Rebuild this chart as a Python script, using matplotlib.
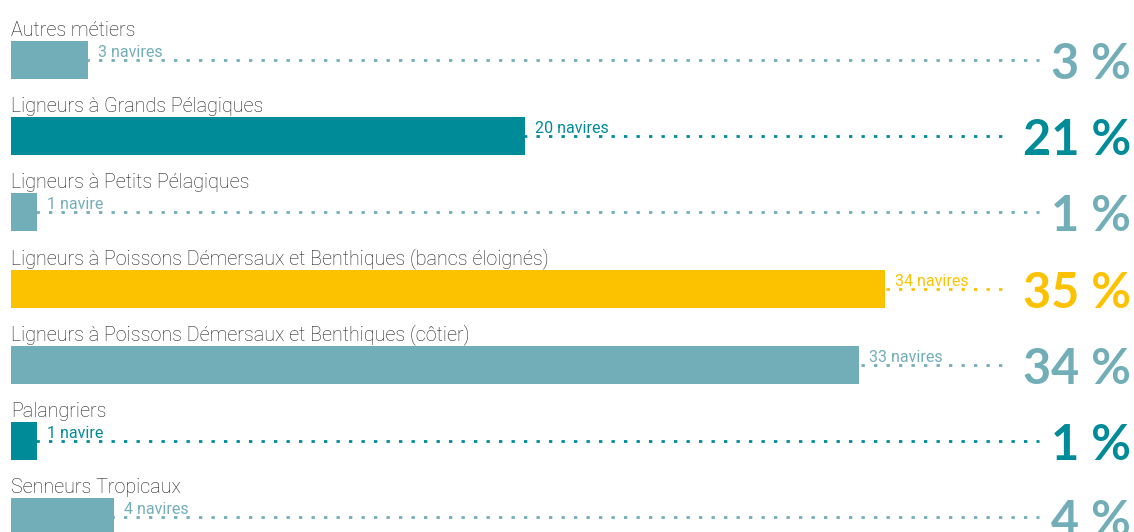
import matplotlib
matplotlib.use("Agg")
import matplotlib.pyplot as plt
import matplotlib.transforms as mtransforms

# Données
categories = [
    "Autres métiers",
    "Ligneurs à Grands Pélagiques",
    "Ligneurs à Petits Pélagiques",
    "Ligneurs à Poissons Démersaux et Benthiques (bancs éloignés)",
    "Ligneurs à Poissons Démersaux et Benthiques (côtier)",
    "Palangriers",
    "Senneurs Tropicaux",
]
navires = [3, 20, 1, 34, 33, 1, 4]
pourcentages = [3, 21, 1, 35, 34, 1, 4]

LIGHT = "#72AEB7"
DARK = "#008B99"
YELLOW = "#FCC200"
colors = [LIGHT, DARK, LIGHT, YELLOW, LIGHT, DARK, LIGHT]

W, H = 1134, 532
fig = plt.figure(figsize=(W / 100, H / 100), dpi=100)
ax = fig.add_axes([0, 0, 1, 1])
ax.set_axis_off()

px_per_navire = 25.7
x0 = 11  # left edge of bars, px
ax.set_xlim(-x0 / px_per_navire, (W - x0) / px_per_navire)
row_px = 76.2
top_px = 60
ax.set_ylim((H - top_px) / row_px, -top_px / row_px)

ys = list(range(len(categories)))
ax.barh(ys, navires, height=0.5, color=colors, zorder=2)

# right edge in axes coords for percentages
pct_trans = mtransforms.blended_transform_factory(ax.transAxes, ax.transData)
fig.canvas.draw()
renderer = fig.canvas.get_renderer()

for y, cat, n, p, c in zip(ys, categories, navires, pourcentages, colors):
    ax.text(0, y - 0.315, cat, ha="left", va="baseline", fontsize=14.2,
            family="Roboto", weight="light", color="#1f1f1f")
    lab = f"{n} navire" if n == 1 else f"{n} navires"
    ax.text(n + 10 / px_per_navire, y - 0.04, lab, ha="left", va="baseline",
            fontsize=11.5, family="Roboto", weight="normal", color=c, zorder=3)
    t = ax.text(1131 / W, y + 0.25, f"{p} %", transform=pct_trans, ha="right",
                va="baseline", fontsize=35, family="Lato", weight="bold", color=c)
    bb = t.get_window_extent(renderer)
    x_end = ax.transData.inverted().transform((bb.x0 - 12, 0))[0]
    ax.plot([0, x_end], [y, y], color=c, lw=2, linestyle=(0, (1.2, 3.3)),
            zorder=1)

fig.savefig("out.png", dpi=100)
